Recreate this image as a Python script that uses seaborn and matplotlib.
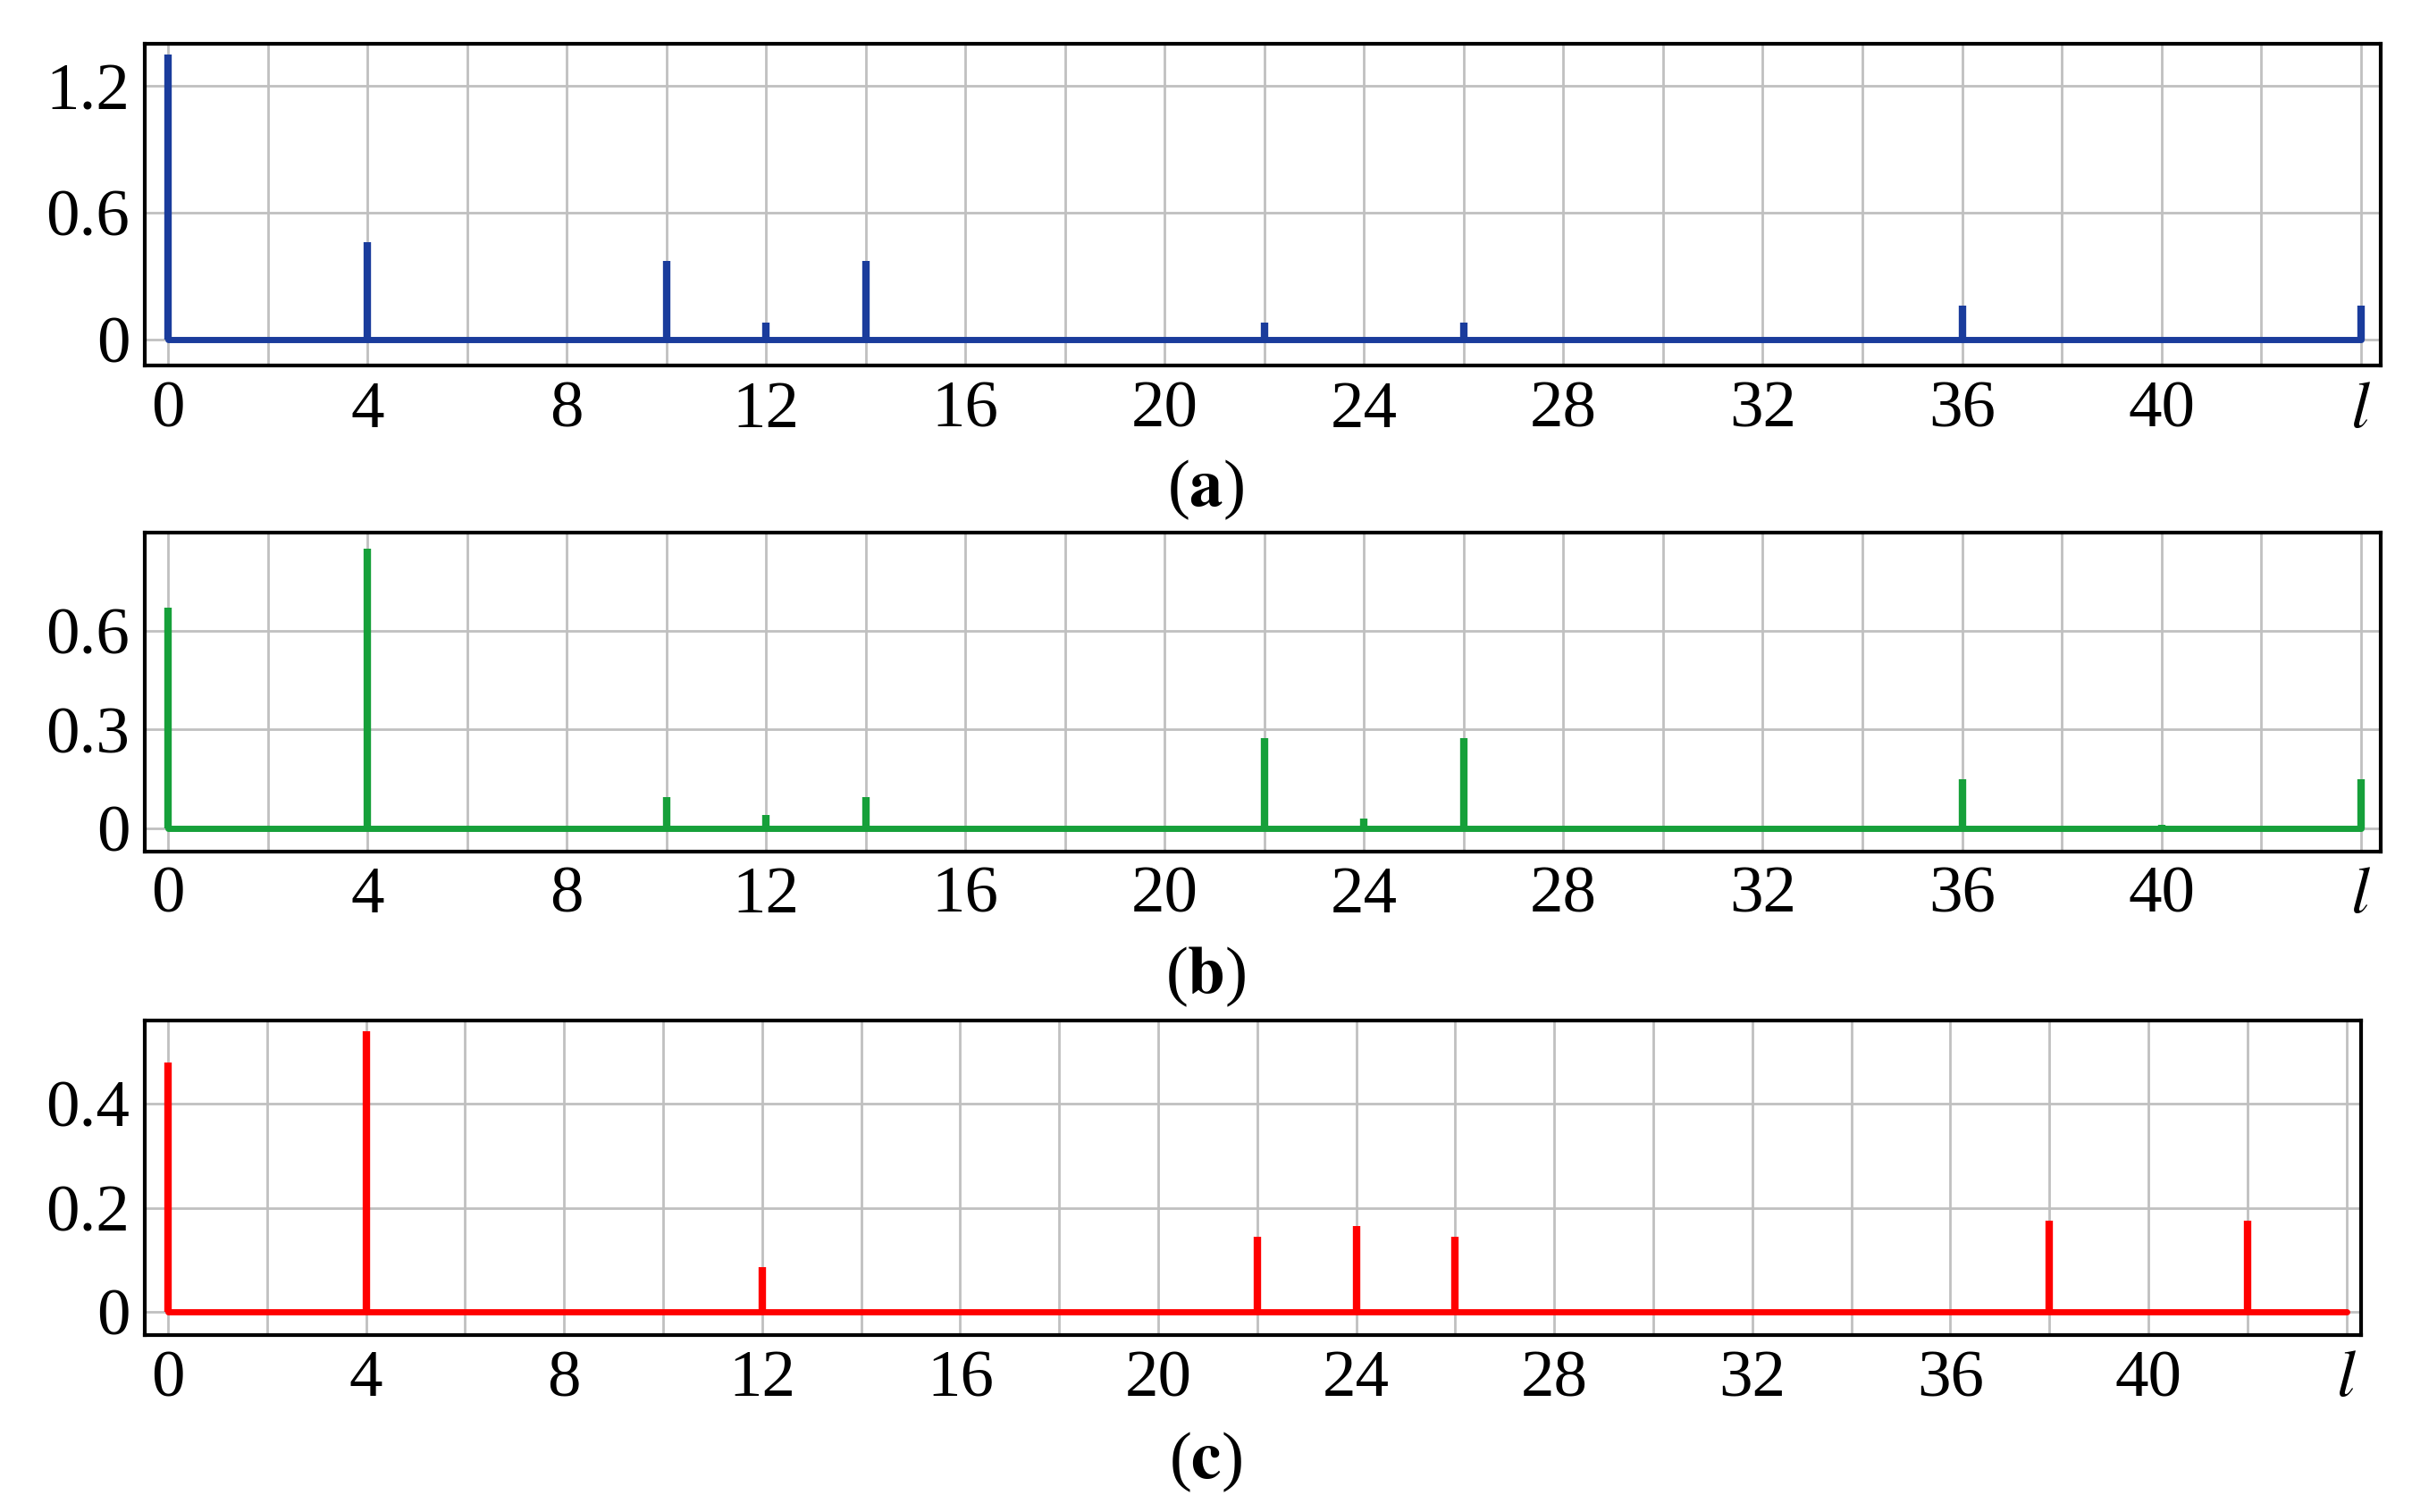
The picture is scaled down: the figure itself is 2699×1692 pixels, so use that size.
import matplotlib
matplotlib.use("Agg")
import matplotlib.pyplot as plt
import seaborn as sns
import pandas as pd
import numpy as np

sns.set_style("white")
plt.rcParams['font.family'] = ['Liberation Serif', 'DejaVu Serif']
plt.rcParams['mathtext.fontset'] = 'stix'
plt.rcParams['text.color'] = 'black'
plt.rcParams['xtick.color'] = 'black'
plt.rcParams['ytick.color'] = 'black'

a_l = [0, 4, 10, 12, 14, 22, 26, 36, 44]
a_v = [1.35, 0.46, 0.37, 0.08, 0.37, 0.08, 0.08, 0.16, 0.16]
b_l = [0, 4, 10, 12, 14, 22, 24, 26, 36, 40, 44]
b_v = [0.67, 0.85, 0.095, 0.04, 0.095, 0.275, 0.03, 0.275, 0.15, 0.01, 0.15]
c_l = [0, 4, 12, 22, 24, 26, 38, 42]
c_v = [0.48, 0.54, 0.085, 0.145, 0.165, 0.145, 0.175, 0.175]

xticks = [0, 4, 8, 12, 16, 20, 24, 28, 32, 36, 40, 44]
xlabels = ['0', '4', '8', '12', '16', '20', '24', '28', '32', '36', '40', '$l$']

panels = [
    dict(l=a_l, v=a_v, color='#1a3c9c', yt=[0, 0.6, 1.2], ytl=['0', '0.6', '1.2'],
         ylim=(-0.125, 1.4), pos=[0.060, 0.758, 0.927, 0.213], lab='a', laby=0.676, xmax=44.4),
    dict(l=b_l, v=b_v, color='#16a03a', yt=[0, 0.3, 0.6], ytl=['0', '0.3', '0.6'],
         ylim=(-0.07, 0.9), pos=[0.060, 0.437, 0.927, 0.211], lab='b', laby=0.354, xmax=44.4),
    dict(l=c_l, v=c_v, color='#ff0000', yt=[0, 0.2, 0.4], ytl=['0', '0.2', '0.4'],
         ylim=(-0.045, 0.56), pos=[0.060, 0.117, 0.919, 0.208], lab='c', laby=0.033, xmax=44.3),
]

fig = plt.figure(figsize=(26.99, 16.92), dpi=100)
for p in panels:
    ax = fig.add_axes(p['pos'])
    df = pd.DataFrame({'l': [0, 44], 'v': [0, 0]})
    sns.lineplot(data=df, x='l', y='v', color=p['color'], lw=5, ax=ax, zorder=3)
    ax.vlines(p['l'], 0, p['v'], color=p['color'], lw=6, zorder=3)
    ax.set_xlim(-0.47, p['xmax'])
    ax.set_ylim(*p['ylim'])
    ax.set_xticks(np.arange(0, 45, 2), minor=True)
    ax.set_xticks(xticks)
    ax.set_xticklabels(xlabels)
    ax.set_yticks(p['yt'])
    ax.set_yticklabels(p['ytl'])
    ax.grid(True, which='both', axis='x', color='#c0c0c0', lw=2)
    ax.grid(True, which='major', axis='y', color='#c0c0c0', lw=2)
    ax.tick_params(which='both', length=0, labelsize=54, pad=12)
    ax.set_xlabel('')
    ax.set_ylabel('')
    for s in ax.spines.values():
        s.set_color('black')
        s.set_linewidth(3)
    fig.text(0.5, p['laby'], '(' + r'$\mathbf{' + p['lab'] + '}$' + ')', ha='center', va='center', fontsize=54)

fig.savefig('out.png', dpi=100)
